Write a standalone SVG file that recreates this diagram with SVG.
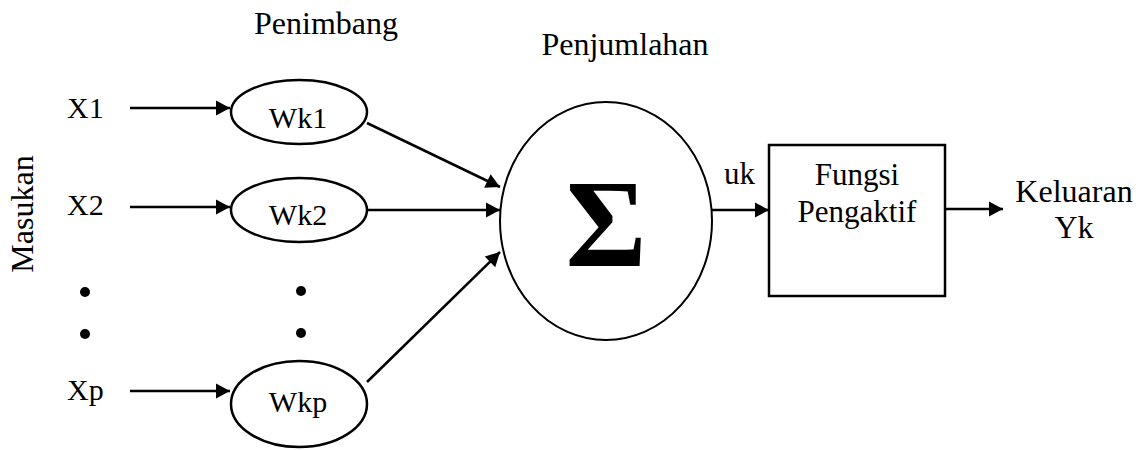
<svg xmlns="http://www.w3.org/2000/svg" width="1145" height="450" viewBox="0 0 1145 450">
  <defs>
    <marker id="arrow" markerUnits="userSpaceOnUse" markerWidth="16" markerHeight="16" viewBox="0 0 16 16" refX="15" refY="8" orient="auto">
      <path d="M1,0.5 L15,8 L1,15.5 Z" fill="#000"/>
    </marker>
  </defs>

  <rect width="1145" height="450" fill="#fff"/>

  <!-- all labels share the serif face -->
  <g font-family="Liberation Serif, Times New Roman, serif" font-size="30" fill="#000">
    <!-- headings -->
    <text font-size="32" text-anchor="middle" x="326" y="34">Penimbang</text>
    <text font-size="32" text-anchor="middle" x="625" y="55">Penjumlahan</text>
    <text font-size="32" text-anchor="middle" transform="translate(33,214) rotate(-90)">Masukan</text>

    <!-- inputs -->
    <g id="in-x1"><text x="67" y="118">X1</text></g>
    <g id="in-x2"><text x="67" y="215">X2</text></g>
    <g id="in-xp"><text x="67" y="400">Xp</text></g>
    <g id="in-dots">
      <circle cx="85" cy="292" r="5"/>
      <circle cx="85" cy="334" r="5"/>
    </g>

    <!-- weights -->
    <g id="w-k1">
      <ellipse cx="299" cy="112" rx="68" ry="32" fill="#fff" stroke="#000" stroke-width="2.5"/>
      <text text-anchor="middle" x="298" y="128">Wk1</text>
    </g>
    <g id="w-k2">
      <ellipse cx="299" cy="210" rx="68" ry="32" fill="#fff" stroke="#000" stroke-width="2.5"/>
      <text text-anchor="middle" x="298" y="225">Wk2</text>
    </g>
    <g id="w-dots">
      <circle cx="301" cy="291" r="5"/>
      <circle cx="301" cy="333" r="5"/>
    </g>
    <g id="w-kp">
      <ellipse cx="299" cy="404" rx="68" ry="43" fill="#fff" stroke="#000" stroke-width="2.5"/>
      <text text-anchor="middle" x="298" y="412">Wkp</text>
    </g>

    <!-- summing junction -->
    <g id="sum">
      <ellipse cx="606" cy="221" rx="106" ry="119" fill="#fff" stroke="#000" stroke-width="2"/>
      <text font-size="124" font-weight="bold" text-anchor="middle" x="606" y="266">Σ</text>
    </g>

    <!-- activation function -->
    <g id="activation">
      <rect x="769" y="145" width="176" height="151" fill="#fff" stroke="#000" stroke-width="2.5"/>
      <text font-size="31" text-anchor="middle" x="857" y="185">Fungsi</text>
      <text font-size="31" text-anchor="middle" x="857" y="222">Pengaktif</text>
    </g>

    <!-- output -->
    <g id="output">
      <text font-size="32" text-anchor="middle" x="1074" y="202">Keluaran</text>
      <text font-size="32" text-anchor="middle" x="1074" y="238">Yk</text>
    </g>

    <text font-size="31" x="724" y="184">uk</text>
  </g>

  <!-- connectors -->
  <g id="connectors" fill="none" stroke="#000" stroke-width="2.5" marker-end="url(#arrow)">
    <line x1="130" y1="108" x2="230" y2="108"/>
    <line x1="130" y1="207" x2="230" y2="207"/>
    <line x1="130" y1="391" x2="230" y2="391"/>
    <line x1="367" y1="123" x2="500" y2="187"/>
    <line x1="367" y1="210" x2="500" y2="210"/>
    <line x1="367" y1="382" x2="500" y2="252"/>
    <line x1="712" y1="210" x2="769" y2="210"/>
    <line x1="945" y1="209" x2="1003" y2="209"/>
  </g>
</svg>
